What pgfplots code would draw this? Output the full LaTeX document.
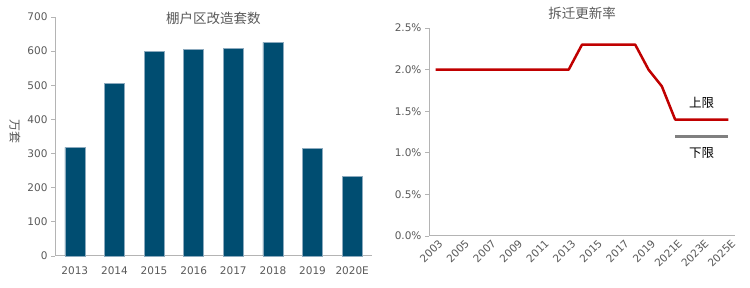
\documentclass[border=0pt]{standalone}
\usepackage{fontspec}
\setmainfont{DejaVu Sans}
\newfontfamily\cjk{Noto Sans CJK SC}
\usepackage{pgfplots}
\pgfplotsset{compat=1.18}
\definecolor{barblue}{RGB}{0,77,113}
\definecolor{baredge}{RGB}{140,170,190}
\definecolor{linered}{RGB}{192,0,0}
\definecolor{lowgray}{RGB}{128,128,128}
\definecolor{axgray}{RGB}{180,180,180}
\definecolor{txtgray}{RGB}{89,89,89}
\begin{document}
\begin{tikzpicture}
\path[use as bounding box] (0pt,0pt) rectangle (750pt,288pt);
\begin{axis}[
  at={(55pt,32pt)}, anchor=south west,
  scale only axis, width=317pt, height=239pt,
  xmin=-0.5, xmax=7.5, ymin=0, ymax=700,
  xtick={0,...,7},
  xticklabels={2013,2014,2015,2016,2017,2018,2019,2020E},
  ytick={0,100,...,700},
  axis x line*=bottom, axis y line*=left,
  axis line style={axgray, line width=1pt},
  x axis line style={-}, y axis line style={-},
  major x tick style={draw=none},
  major y tick style={axgray, line width=0.8pt},
  tick align=outside, major tick length=4pt,
  ticklabel style={font=\fontsize{10.5}{12}\selectfont, text=txtgray},
  xticklabel style={yshift=-3pt},
  /pgf/number format/assume math mode=true,
  ylabel={\cjk 万套}, ylabel style={rotate=180, font=\cjk\fontsize{12}{13}\selectfont, text=txtgray, xshift=-5pt},
  title={\cjk 棚户区改造套数}, title style={font=\cjk\fontsize{13.5}{15}\selectfont, text=txtgray, at={(0.5,0.97)}, anchor=center},
  clip=false,
]
\addplot[ybar, bar width=20pt, fill=barblue, draw=baredge, line width=0.4pt] coordinates {
(0,318) (1,505) (2,600) (3,605) (4,609) (5,626) (6,316) (7,234)};
\end{axis}
\begin{axis}[
  at={(429pt,52pt)}, anchor=south west,
  scale only axis, width=306pt, height=208pt,
  xmin=2002.5, xmax=2025.5, ymin=0, ymax=2.5,
  xtick={2003,2005,...,2025},
  xticklabels={2003,2005,2007,2009,2011,2013,2015,2017,2019,2021E,2023E,2025E},
  ytick={0,0.5,1,1.5,2,2.5},
  yticklabels={0.0\%,0.5\%,1.0\%,1.5\%,2.0\%,2.5\%},
  axis x line*=bottom, axis y line*=left,
  axis line style={axgray, line width=1pt},
  x axis line style={-}, y axis line style={-},
  major x tick style={draw=none},
  major y tick style={axgray, line width=0.8pt},
  tick align=outside, major tick length=4pt,
  ticklabel style={font=\fontsize{10.5}{12}\selectfont, text=txtgray},
  xticklabel style={rotate=45, anchor=north east, inner sep=0.5pt, xshift=3pt},
  title={\cjk 拆迁更新率}, title style={font=\cjk\fontsize{13.5}{15}\selectfont, text=txtgray, at={(0.5,1.04)}, anchor=center},
  clip=false,
]
\addplot[linered, line width=2.5pt, line join=round] coordinates {
(2003,2.0) (2004,2.0) (2005,2.0) (2006,2.0) (2007,2.0) (2008,2.0) (2009,2.0) (2010,2.0) (2011,2.0) (2012,2.0) (2013,2.0)
(2014,2.3) (2015,2.3) (2016,2.3) (2017,2.3) (2018,2.3)
(2019,2.0) (2020,1.8) (2021,1.4) (2022,1.4) (2023,1.4) (2024,1.4) (2025,1.4)};
\addplot[color=lowgray, solid, line width=3pt, line cap=butt] coordinates {
(2021,1.2) (2022,1.2) (2023,1.2) (2024,1.2) (2025,1.2)};
\node[font=\cjk\fontsize{12.5}{14}\selectfont] at (axis cs:2023,1.6) {上限};
\node[font=\cjk\fontsize{12.5}{14}\selectfont] at (axis cs:2023,1.0) {下限};
\end{axis}
\end{tikzpicture}
\end{document}
